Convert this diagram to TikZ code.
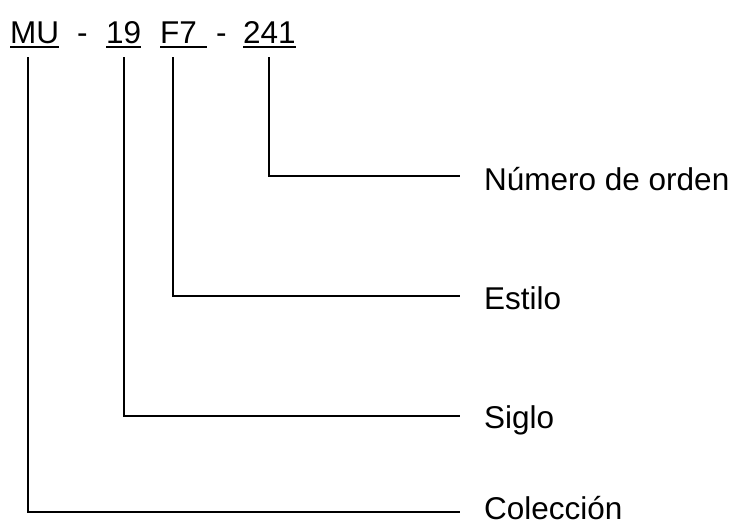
\documentclass[tikz,border=0pt]{standalone}
\usepackage{fontspec}
\setmainfont{Liberation Sans}
\begin{document}
\begin{tikzpicture}[x=1pt,y=-1pt,
  txt/.style={inner sep=0pt,anchor=base west,font=\fontsize{31.5}{38}\selectfont},
  link/.style={draw=black,line width=1.6pt},
  uline/.style={draw=black,line width=1.8pt}]
\useasboundingbox[fill=white] (0,0) rectangle (736,523);
% code parts
\node[txt] (mu)  at (10,43)  {MU};
\node[txt] (d1)  at (77,43)  {-};
\node[txt] (n19) at (106,43) {19};
\node[txt] (f7)  at (160,43) {F7};
\node[txt] (d2)  at (216,43) {-};
\node[txt] (n241) at (243,43) {241};
% underlines
\draw[uline] ([yshift=-4pt]mu.base west) -- ([yshift=-4pt]mu.base east);
\draw[uline] ([yshift=-4pt]n19.base west) -- ([yshift=-4pt]n19.base east);
\draw[uline] ([yshift=-4pt]f7.base west) -- ([yshift=-4pt,xshift=10pt]f7.base east);
\draw[uline] ([yshift=-4pt]n241.base west) -- ([yshift=-4pt]n241.base east);
% labels
\node[txt] (num) at (484,190) {Número de orden};
\node[txt] (est) at (484,309) {Estilo};
\node[txt] (sig) at (484,428) {Siglo};
\node[txt] (col) at (484,519) {Colección};
% connector ends
\coordinate (t241) at (269,57);
\coordinate (tf7)  at (173,57);
\coordinate (t19)  at (124,57);
\coordinate (tmu)  at (28,57);
\coordinate (enum) at (460,176);
\coordinate (eest) at (460,296);
\coordinate (esig) at (460,416);
\coordinate (ecol) at (460,512);
\draw[link] (t241) |- (enum);
\draw[link] (tf7)  |- (eest);
\draw[link] (t19)  |- (esig);
\draw[link] (tmu)  |- (ecol);
\end{tikzpicture}
\end{document}
